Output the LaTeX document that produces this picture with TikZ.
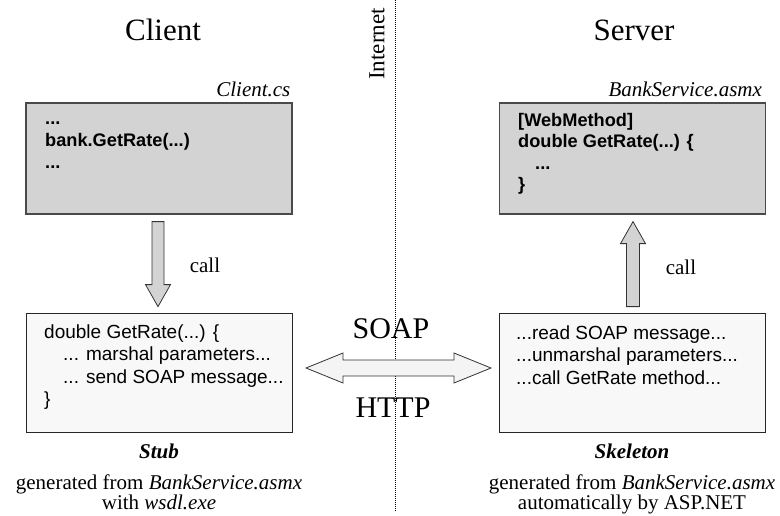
\documentclass[tikz,border=0pt]{standalone}
\usepackage{fontspec}
\setmainfont{Liberation Serif}
\setsansfont{Liberation Sans}
\usetikzlibrary{calc}
\definecolor{boxgray}{HTML}{D3D3D3}
\definecolor{boxborder}{HTML}{4A4A4A}
\definecolor{lightbox}{HTML}{F8F8F8}
\definecolor{arrowfill}{HTML}{D3D3D3}
\definecolor{dblfill}{HTML}{F4F4F4}
\begin{document}
\begin{tikzpicture}[x=1pt,y=-1pt,
  title/.style={font=\fontsize{31}{31}\selectfont, inner sep=0},
  graybox/.style={draw=boxborder, fill=boxgray, line width=1.2pt, minimum width=266pt, minimum height=111pt, inner sep=0},
  whitebox/.style={draw=black!85, fill=lightbox, line width=0.8pt, minimum width=266pt, minimum height=119pt, inner sep=0},
  codeline/.style={font=\sffamily\bfseries\fontsize{18.2}{21}\selectfont, anchor=base west, inner sep=0},
  plainline/.style={font=\sffamily\fontsize{19}{22}\selectfont, anchor=base west, inner sep=0},
  lab/.style={font=\fontsize{21}{24}\selectfont, inner sep=0},
  caption/.style={font=\fontsize{21}{19.5}\selectfont, inner sep=0, align=center, anchor=north},
  filelab/.style={font=\itshape\fontsize{21}{24}\selectfont, inner sep=0, anchor=base east},
  blockarrow/.style={draw=black!80, fill=arrowfill, line width=0.8pt, line join=miter},
  dblarrow/.style={draw=black!80, fill=dblfill, line width=0.8pt, line join=miter},
  sep/.style={draw=black, line width=0.6pt, dash pattern=on 1pt off 1pt}
]
\useasboundingbox (0,0) rectangle (780,515);

% titles
\node[title] (client) at (163,30) {Client};
\node[title] (server) at (634,30) {Server};
\node[font=\fontsize{23}{23}\selectfont, rotate=90, inner sep=0] (inet) at (377,44) {Internet};

% separator
\coordinate (septop) at (395,0);
\coordinate (sepbot) at (395,511);
\draw[sep] (septop) -- (sepbot);

% top boxes
\node[graybox] (cs) at (159,158.5) {};
\node[filelab] (cslab) at ($(cs.north east)+(-2,-6)$) {Client.cs};
\node[codeline] (c1) at (45,124) {...};
\node[codeline] (c2) at (45,146) {bank.GetRate(...)};
\node[codeline] (c3) at (45,168) {...};

\node[graybox] (asmx) at (632.5,158.5) {};
\node[filelab] (asmxlab) at ($(asmx.north east)+(-4,-6)$) {BankService.asmx};
\node[codeline] (w1) at (518,126) {[WebMethod]};
\node[codeline] (w2) at (518,147) {double GetRate(...) \{};
\node[codeline] (w3) at (535,169) {...};
\node[codeline] (w4) at (518,190) {\}};

% bottom boxes
\node[whitebox] (stub) at (159,372.5) {};
\node[plainline] (s1) at (44,338) {double GetRate(...) \{};
\node[plainline] (s2) at (63,360) {... marshal parameters...};
\node[plainline] (s3) at (63,383) {... send SOAP message...};
\node[plainline] (s4) at (44,405) {\}};

\node[whitebox] (skel) at (632.5,372.5) {};
\node[plainline] (k1) at (516,339) {...read SOAP message...};
\node[plainline] (k2) at (516,361) {...unmarshal parameters...};
\node[plainline] (k3) at (516,384) {...call GetRate method...};

% call arrows (block arrows between the boxes)
\coordinate (dtop) at ($(cs.south)+(-1,7)$);
\draw[blockarrow, shift={(dtop)}] (-6,0) -- (6,0) -- (6,63) -- (12.5,63) -- (0,85) -- (-12.5,63) -- (-6,63) -- cycle;
\node[lab] (call1) at (205,265) {call};

\coordinate (utop) at ($(asmx.south)+(0.5,7)$);
\draw[blockarrow, shift={(utop)}] (0,0) -- (12.5,22) -- (6.5,22) -- (6.5,85) -- (-6.5,85) -- (-6.5,22) -- (-12.5,22) -- cycle;
\node[lab] (call2) at (681,267) {call};

% SOAP / HTTP double arrow
\coordinate (dblmid) at (398.5,368);
\draw[dblarrow, shift={(dblmid)}] (-92.5,0) -- (-55.5,-15) -- (-55.5,-8) -- (55.5,-8) -- (55.5,-15) -- (92.5,0) -- (55.5,15) -- (55.5,8) -- (-55.5,8) -- (-55.5,15) -- cycle;
\node[font=\fontsize{30}{30}\selectfont, inner sep=0] (soaptxt) at (391,329) {SOAP};
\node[font=\fontsize{30}{30}\selectfont, inner sep=0] (httptxt) at (393,408) {HTTP};

% captions
\node[lab, font=\bfseries\itshape\fontsize{21}{24}\selectfont] (stublab) at (159,451) {Stub};
\node[caption] (g1) at (159,475) {generated from \textit{BankService.asmx}\\with \textit{wsdl.exe}};

\node[lab, font=\bfseries\itshape\fontsize{21}{24}\selectfont] (skellab) at (632,451) {Skeleton};
\node[caption] (g3) at (632,475) {generated from \textit{BankService.asmx}\\automatically by ASP.NET};
\end{tikzpicture}
\end{document}
